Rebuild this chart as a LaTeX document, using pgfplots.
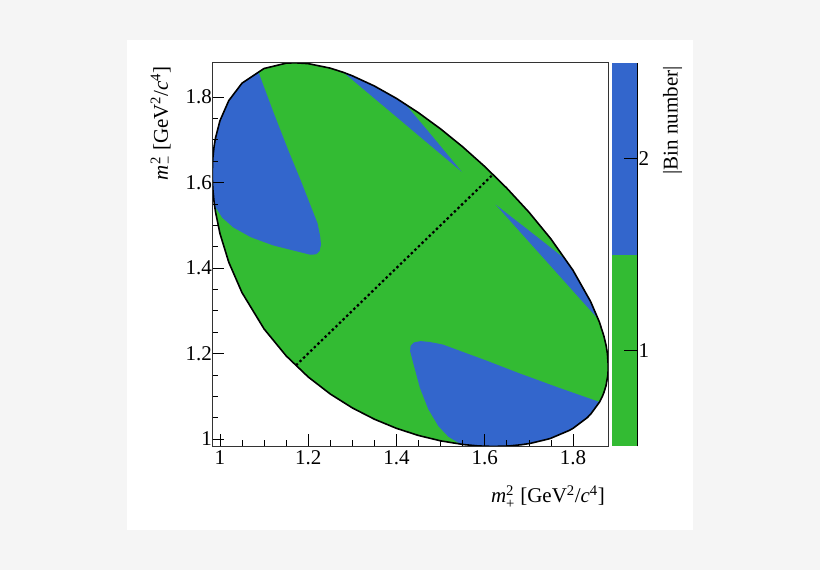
\documentclass[border=0pt]{standalone}
\usepackage{fontspec}
\setmainfont{Liberation Serif}
\usepackage{amsmath}
\usepackage{pgfplots}
\usepackage{pgfplotstable}
\pgfplotsset{compat=1.18}

\definecolor{binblue}{RGB}{51,102,204}
\definecolor{bingreen}{RGB}{51,187,51}
\definecolor{pagegray}{RGB}{245,245,245}
\newcommand{\lbl}{\fontsize{21bp}{25bp}\selectfont}

% Dalitz boundary, m2+ vs m2-
\pgfplotstableread{
x y
0.98265 1.62143
0.98345 1.65
0.984 1.65823
0.9865 1.68266
0.98916 1.7
0.99 1.70461
1.0 1.74461
1.02 1.79165
1.05 1.83243
1.1 1.86677
1.15 1.87917
1.16965 1.88009
1.2 1.87812
1.25 1.86756
1.28 1.85760
1.3 1.84965
1.35 1.82576
1.4 1.79676
1.45 1.76321
1.5 1.72543
1.55 1.68355
1.6 1.63748
1.65 1.58687
1.7 1.53094
1.75 1.46811
1.8 1.39480
1.84 1.32162
1.86 1.27338
1.87 1.24119
1.875 1.21945
1.87812 1.2
1.88009 1.16965
1.87917 1.15
1.875 1.12495
1.87 1.10824
1.86677 1.1
1.86 1.08608
1.84 1.05790
1.83243 1.05
1.8 1.02489
1.79165 1.02
1.75 1.00177
1.74461 1.0
1.70461 0.99
1.7 0.98916
1.68266 0.9865
1.65823 0.984
1.65 0.98345
1.62143 0.98265
1.6 0.98308
1.58326 0.984
1.5563 0.9865
1.55 0.98726
1.5 0.99566
1.45 1.00816
1.4 1.02492
1.35 1.04625
1.3 1.07271
1.25 1.10520
1.2 1.14506
1.15 1.19448
1.1 1.25737
1.05 1.34226
1.02 1.41339
1.0 1.48068
0.99 1.53080
0.98726 1.55
0.9865 1.5563
0.984 1.58326
0.98308 1.6
}\boundary

% bin 2, upper left
\pgfplotstableread{
x y
1.087 1.859
1.05 1.83243
1.02 1.79165
1.0 1.74461
0.99 1.70461
0.98916 1.7
0.9865 1.68266
0.984 1.65823
0.98345 1.65
0.98265 1.62143
0.98308 1.6
0.984 1.58326
0.9865 1.5563
0.988 1.5455
1.005 1.518
1.03 1.495
1.07 1.472
1.12 1.453
1.17 1.440
1.205 1.431
1.218 1.432
1.226 1.440
1.229 1.455
1.227 1.475
1.221 1.505
1.205 1.547
1.183 1.605
1.155 1.675
1.121 1.765
1.087 1.859
}\regA

% bin 2, bottom
\pgfplotstableread{
x y
1.859 1.087
1.83243 1.05
1.79165 1.02
1.74461 1.0
1.70461 0.99
1.7 0.98916
1.68266 0.9865
1.65823 0.984
1.65 0.98345
1.62143 0.98265
1.6 0.98308
1.58326 0.984
1.5563 0.9865
1.5455 0.988
1.518 1.005
1.495 1.03
1.472 1.07
1.453 1.12
1.440 1.17
1.431 1.205
1.432 1.218
1.440 1.226
1.455 1.229
1.475 1.227
1.505 1.221
1.547 1.205
1.605 1.183
1.675 1.155
1.765 1.121
1.859 1.087
}\regD

% bin 2, thin sliver near the top
\pgfplotstableread{
x y
1.28 1.8576
1.3 1.84965
1.35 1.82576
1.4 1.79676
1.42 1.7834
1.46 1.7345
1.50 1.6850
1.548 1.625
1.50 1.6666
1.45 1.7100
1.40 1.7535
1.35 1.7968
1.30 1.8402
1.28 1.8576
}\regB

% bin 2, thin sliver on the right
\pgfplotstableread{
x y
1.8576 1.28
1.84965 1.3
1.82576 1.35
1.79676 1.4
1.7834 1.42
1.7345 1.46
1.6850 1.50
1.625 1.548
1.6666 1.50
1.7100 1.45
1.7535 1.40
1.7968 1.35
1.8402 1.30
1.8576 1.28
}\regC

\begin{document}
\begin{tikzpicture}
\fill[pagegray] (0bp,0bp) rectangle (820bp,570bp);
\fill[white] (127bp,40bp) rectangle (693bp,530bp);

\begin{axis}[
  at={(212.3bp,123.6bp)}, anchor=south west,
  scale only axis, width=396bp, height=383.6bp,
  xmin=0.98265, xmax=1.88009,
  ymin=0.98265, ymax=1.88009,
  xtick={1,1.2,1.4,1.6,1.8},
  ytick={1,1.2,1.4,1.6,1.8},
  minor tick num=3,
  tick pos=left, tick align=inside,
  major tick length=12bp, minor tick length=6bp,
  tick style={black, line width=0.6bp},
  axis line style={black!80, line width=0.7bp},
  axis on top,
  /pgf/number format/assume math mode=true,
  tick label style={font=\lbl},
  xticklabel style={yshift=-1bp},
  yticklabel style={xshift=3bp},
  xlabel={\textit{m}$^{\text{2}}_{\text{+}}$ [GeV\textsuperscript{2}/\textit{c}\textsuperscript{4}]},
  ylabel={\textit{m}$^{\text{2}}_{\text{−}}$ [GeV\textsuperscript{2}/\textit{c}\textsuperscript{4}]},
  every axis x label/.style={at={(axis description cs:1,-0.1475)}, anchor=base east, font=\lbl},
  every axis y label/.style={at={(axis description cs:-0.112,1)}, rotate=90, anchor=base east, font=\lbl},
]
  \addplot[fill=bingreen, draw=none] table {\boundary} -- cycle;
  \addplot[fill=binblue, draw=none] table {\regA} -- cycle;
  \addplot[fill=binblue, draw=none] table {\regD} -- cycle;
  \addplot[fill=binblue, draw=none] table {\regB} -- cycle;
  \addplot[fill=binblue, draw=none] table {\regC} -- cycle;
  \addplot[black, line width=2.2bp, dash pattern=on 2.4bp off 2.6bp]
    coordinates {(1.1724,1.1724) (1.6185,1.6185)};
  \addplot[black, line width=1.6bp, line join=round] table {\boundary} -- cycle;
\end{axis}

\begin{axis}[
  at={(612bp,123.6bp)}, anchor=south west,
  scale only axis, width=25bp, height=383.6bp,
  xmin=0, xmax=1, ymin=0.5, ymax=2.5,
  axis x line=none, axis y line*=right,
  ytick={1,2}, tick align=inside,
  major tick length=13bp,
  tick style={black, line width=0.7bp},
  axis line style={black, line width=1bp},
  axis on top,
  /pgf/number format/assume math mode=true,
  tick label style={font=\lbl},
  yticklabel style={xshift=-2bp},
  ylabel={|Bin number|},
  every axis y label/.style={at={(axis description cs:2.62,1)}, rotate=90, anchor=base east, font=\lbl},
]
  \addplot[fill=bingreen, draw=none] coordinates {(0,0.5) (1,0.5) (1,1.5) (0,1.5)} -- cycle;
  \addplot[fill=binblue, draw=none] coordinates {(0,1.5) (1,1.5) (1,2.5) (0,2.5)} -- cycle;
\end{axis}
\end{tikzpicture}
\end{document}
